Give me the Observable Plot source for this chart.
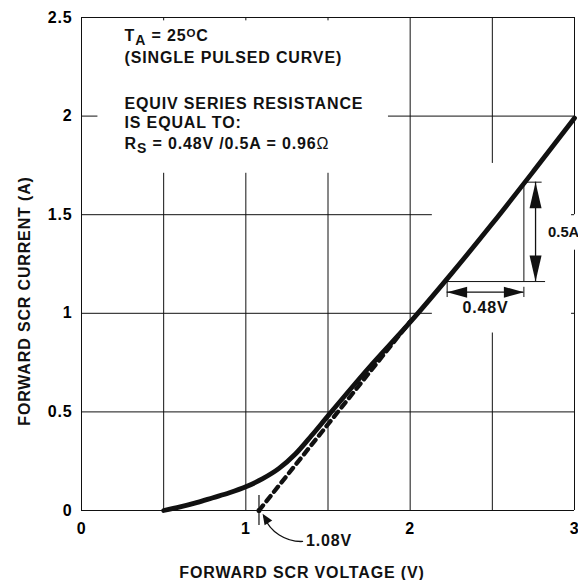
<!DOCTYPE html>
<html>
<head>
<meta charset="utf-8">
<script src="https://cdn.jsdelivr.net/npm/d3@7"></script>
<script src="https://cdn.jsdelivr.net/npm/@observablehq/plot@0.6"></script>
<style>
  body { margin: 0; background: #fff; }
  svg text { font-family: "Liberation Sans", Arial, Helvetica, sans-serif; font-weight: bold; letter-spacing: 0.85px; }
  svg .tight text { letter-spacing: 0; }
</style>
</head>
<body>
<div id="chart"></div>
<script>
// ---- data ----
const voltage = [0.5, 0.6, 0.7, 0.8, 0.9, 1.0, 1.1, 1.2, 1.3, 1.4, 1.5, 1.75, 2.0, 2.25, 2.5, 2.75, 3.0];
const current = [0.0, 0.018, 0.04, 0.065, 0.09, 0.12, 0.16, 0.212, 0.285, 0.38, 0.48, 0.725, 0.955, 1.2, 1.455, 1.72, 1.99];
const tangentV = [1.08, 2.0];
const tangentA = [0, 0.958];
const kneeV = 1.08;
const xTicks = [0, 1, 2, 3];
const yTicks = [0, 0.5, 1, 1.5, 2, 2.5];
const stepV = [2.225, 2.692];   // 0.48 V run
const stepA = [1.161, 1.665];   // 0.5 A rise
const notes = ["T_{A} = 25^{O}C", "(SINGLE PULSED CURVE)", "EQUIV SERIES RESISTANCE", "IS EQUAL TO:", "R_{S} = 0.48V /0.5A = 0.96Ω"];
const xLabel = "FORWARD SCR VOLTAGE (V)";
const yLabel = "FORWARD SCR CURRENT (A)";
const stepLabels = ["0.48V", "0.5A", "1.08V"];

// grid segments (gaps where the annotations sit)
const vGrid = [
  {x: 0.5, y1: 0, y2: 1.71}, {x: 1, y1: 0, y2: 1.71}, {x: 1.5, y1: 0, y2: 1.71},
  {x: 2, y1: 0, y2: 2.5}, {x: 2.5, y1: 0, y2: 0.9}, {x: 2.5, y1: 1.76, y2: 2.5},
  {x: 0, y1: 0, y2: 2.5}, {x: 3, y1: 0, y2: 1.32}, {x: 3, y1: 1.5, y2: 2.5}
];
const hGrid = [
  {y: 0, x1: 0, x2: 3}, {y: 0.5, x1: 0, x2: 3}, {y: 1, x1: 0, x2: 2.135}, {y: 1.5, x1: 0, x2: 2.135},
  {y: 2, x1: 0, x2: 0.1}, {y: 2, x1: 1.868, x2: 3}, {y: 2.5, x1: 0, x2: 3}
];
const topTicks = [0.5, 1, 1.5];
const rightTicks = [1, 1.5];

const curve = voltage.map((v, i) => ({v, a: current[i]}));
const tangent = tangentV.map((v, i) => ({v, a: tangentA[i]}));

// pixel offsets of the info lines below the frame top
const noteOffsets = [23.5, 45.5, 91, 110.5, 131.5];

const ink = "#111";
const plot = Plot.plot({
  width: 578,
  height: 580,
  marginLeft: 81,
  marginRight: 4,
  marginTop: 17,
  marginBottom: 70,
  x: {domain: [0, 3]},
  y: {domain: [0, 2.5]},
  marks: [
    Plot.ruleX(vGrid, {x: "x", y1: "y1", y2: "y2", stroke: ink, strokeWidth: 1}),
    Plot.ruleY(hGrid, {y: "y", x1: "x1", x2: "x2", stroke: ink, strokeWidth: 1}),
    Plot.ruleX(topTicks, {x: d => d, y1: 2.5, y2: 2.483, stroke: ink}),
    Plot.ruleY(rightTicks, {y: d => d, x1: 3, x2: 2.982, stroke: ink}),
    Plot.axisX({ticks: xTicks, tickSize: 0, tickPadding: 12, fontSize: 16, label: null, tickFormat: d => String(d)}),
    Plot.axisY({ticks: yTicks, tickSize: 0, tickPadding: 9, fontSize: 16, label: null, tickFormat: d => String(d)}),
    Plot.text([xLabel], {frameAnchor: "bottom", dx: -26, dy: 67, lineAnchor: "bottom", fontSize: 16, fill: ink}),
    Plot.text([yLabel], {frameAnchor: "left", textAnchor: "middle", rotate: -90, dx: -57, dy: 37, fontSize: 16, fill: ink}),
    // tangent (dashed) and measured curve
    Plot.line(tangent, {x: "v", y: "a", stroke: ink, strokeWidth: 4.3, strokeDasharray: "6.5,5.5"}),
    Plot.line(curve, {x: "v", y: "a", curve: "monotone-x", stroke: ink, strokeWidth: 4.8}),
    // knee marker
    Plot.ruleX([kneeV], {x: d => d, y1: -0.076, y2: 0.076, stroke: ink, strokeWidth: 1.2}),
    Plot.dot([kneeV], {x: d => d, y: 0, r: 2.5, fill: ink}),
    Plot.arrow([kneeV], {x1: 1.345, y1: -0.157, x2: d => d + 0.03, y2: -0.03, bend: 35, headLength: 0, stroke: ink, strokeWidth: 1.3}),
    Plot.vector([kneeV], {x: d => d + 0.022, y: -0.016, rotate: -32, length: 11, r: 4.5, shape: "spike", anchor: "end", fill: ink, stroke: "none"}),
    Plot.text([stepLabels[2]], {x: kneeV, y: 0, dx: 47, dy: 35, textAnchor: "start", lineAnchor: "bottom", fontSize: 16, fill: ink}),
    // slope triangle
    Plot.ruleX([stepV[1]], {x: d => d, y1: stepA[0], y2: stepA[1], stroke: ink, strokeWidth: 1}),
    Plot.ruleY([stepA[0]], {y: d => d, x1: stepV[0], x2: 2.824, stroke: ink, strokeWidth: 1}),
    Plot.ruleY([stepA[1]], {y: d => d, x1: stepV[1], x2: 2.803, stroke: ink, strokeWidth: 1}),
    Plot.ruleX([stepV[0]], {x: d => d, y1: stepA[0], y2: 1.08, stroke: ink, strokeWidth: 1}),
    Plot.ruleX([stepV[1]], {x: d => d, y1: 1.132, y2: 1.08, stroke: ink, strokeWidth: 1}),
    Plot.ruleX([2.763], {x: d => d, y1: stepA[0], y2: stepA[1], stroke: ink, strokeWidth: 1.3}),
    Plot.ruleY([1.107], {y: d => d, x1: stepV[0], x2: stepV[1], stroke: ink, strokeWidth: 1.3}),
    Plot.vector([
      {x: 2.763, y: stepA[1], r: 0}, {x: 2.763, y: stepA[0], r: 180}
    ], {x: "x", y: "y", rotate: "r", length: 26, r: 6, shape: "spike", anchor: "end", fill: ink, stroke: "none"}),
    Plot.vector([
      {x: stepV[0], y: 1.107, r: -90}, {x: stepV[1], y: 1.107, r: 90}
    ], {x: "x", y: "y", rotate: "r", length: 20, r: 5.5, shape: "spike", anchor: "end", fill: ink, stroke: "none"}),
    Plot.text([stepLabels[0]], {x: (stepV[0] + stepV[1]) / 2, y: 1.107, dy: 21, lineAnchor: "bottom", fontSize: 16, fill: ink}),
    Plot.text([stepLabels[1]], {x: 2.763, y: (stepA[0] + stepA[1]) / 2, dx: 12.5, textAnchor: "start", fontSize: 14.8, fill: ink, className: "tight"}),
    // info block
    ...notes.map((t, i) => Plot.text([t], {frameAnchor: "top-left", dx: 43, dy: noteOffsets[i], textAnchor: "start", lineAnchor: "bottom", fontSize: 16, fill: ink, className: "notes"}))
  ]
});

document.getElementById("chart").appendChild(plot);

// sub/superscripts in the info block
d3.select(plot).selectAll("g.notes text").each(function() {
  const el = this;
  const s = el.textContent;
  const parts = s.split(/(_\{[^}]*\}|\^\{[^}]*\}|Ω)/).filter(p => p);
  el.textContent = "";
  let shift = 0;
  for (const p of parts) {
    const t = document.createElementNS("http://www.w3.org/2000/svg", "tspan");
    let target = 0;
    if (p.startsWith("_{")) { t.textContent = p.slice(2, -1); t.setAttribute("font-size", "14"); target = 4; }
    else if (p.startsWith("^{")) { t.textContent = p.slice(2, -1); t.setAttribute("font-size", "11.5"); target = -4; }
    else if (p === "Ω") { t.textContent = p; t.setAttribute("font-weight", "normal"); }
    else { t.textContent = p; }
    if (target !== shift) { t.setAttribute("dy", target - shift); shift = target; }
    el.appendChild(t);
  }
});
</script>
</body>
</html>
